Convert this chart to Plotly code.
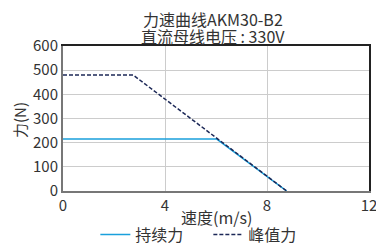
import plotly.graph_objects as go

cont_x = [0, 6.03, 8.77]
cont_y = [215, 215, 0]
peak_x = [0, 2.75, 8.77]
peak_y = [480, 480, 0]
x_ticks = [0, 4, 8, 12]
y_ticks = [0, 100, 200, 300, 400, 500, 600]

font = "Noto Sans CJK SC"
txt = "#333333"
fig = go.Figure()
fig.add_trace(go.Scatter(x=cont_x, y=cont_y, mode="lines", name="持续力",
                         line=dict(color="#1aa0dc", width=1.5)))
fig.add_trace(go.Scatter(x=peak_x, y=peak_y, mode="lines", name="峰值力",
                         line=dict(color="#1c2857", width=1.5, dash="4px,2px")))
# invisible trace on the top/right axes so they are drawn as frame lines
fig.add_trace(go.Scatter(x=[0], y=[0], xaxis="x2", yaxis="y2", mode="markers",
                         marker=dict(opacity=0), showlegend=False, hoverinfo="skip"))
fig.update_layout(
    width=376, height=243,
    margin=dict(l=63, r=7, t=46, b=52, autoexpand=False),
    paper_bgcolor="white", plot_bgcolor="white",
    font=dict(family=font, size=15, color=txt),
    showlegend=True,
    hovermode=False,
    legend=dict(orientation="h", x=0.475, xanchor="center", y=-0.30, yanchor="middle",
                font=dict(size=16), tracegroupgap=0, itemwidth=30,
                entrywidth=68, bgcolor="rgba(0,0,0,0)"),
    xaxis=dict(range=[0, 12], tickvals=x_ticks, showgrid=True, gridcolor="#cccccc",
               showline=True, linecolor="#777777", linewidth=2, automargin=False,
               ticks="", zeroline=False, tickfont=dict(size=15),
               ticklabeloverflow="allow"),
    yaxis=dict(range=[0, 600], tickvals=y_ticks, showgrid=True, gridcolor="#cccccc",
               showline=True, linecolor="#777777", linewidth=2, automargin=False,
               ticks="", zeroline=False, tickfont=dict(size=15), ticklabelstandoff=0),
    xaxis2=dict(overlaying="x", side="top", range=[0, 12], showline=True,
                linecolor="#222222", linewidth=1.5, showgrid=False, zeroline=False,
                showticklabels=False, ticks="", automargin=False),
    yaxis2=dict(overlaying="y", side="right", range=[0, 600], showline=True,
                linecolor="#222222", linewidth=1.5, showgrid=False, zeroline=False,
                showticklabels=False, ticks="", automargin=False),
    annotations=[
        dict(text="力速曲线AKM30-B2", xref="paper", yref="paper", x=0.49, y=1.0,
             yshift=27.5, xanchor="center", yanchor="middle", showarrow=False,
             font=dict(size=16, color=txt)),
        dict(text="直流母线电压 : 330V", xref="paper", yref="paper", x=0.49, y=1.0,
             yshift=10.5, xanchor="center", yanchor="middle", showarrow=False,
             font=dict(size=16, color=txt)),
        dict(text="速度(m/s)", xref="paper", yref="paper", x=0.50, y=0,
             yshift=-26, xanchor="center", yanchor="middle", showarrow=False,
             font=dict(size=16, color=txt)),
        dict(text="力(N)", xref="paper", yref="paper", x=0, y=0.49,
             xshift=-43, xanchor="center", yanchor="middle", showarrow=False,
             textangle=-90, font=dict(size=15, color=txt)),
    ],
)
fig.write_html("out.html", config={"displayModeBar": False},
               post_script="document.body.style.margin='0';document.body.style.overflow='hidden';")
